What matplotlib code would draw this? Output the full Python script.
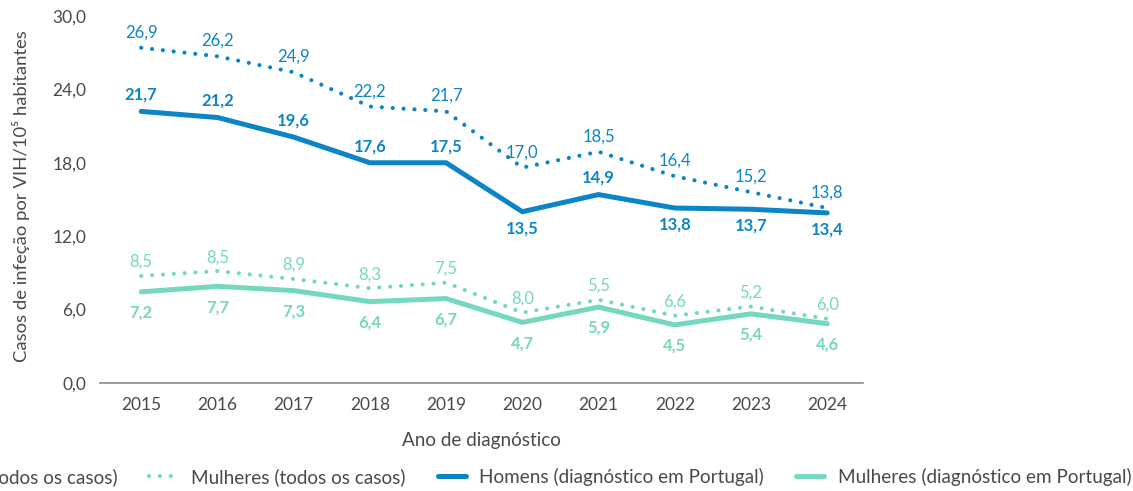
import matplotlib.pyplot as plt

plt.rcParams['font.family'] = ['Lato', 'DejaVu Sans']

years = [2015, 2016, 2017, 2018, 2019, 2020, 2021, 2022, 2023, 2024]

# line positions as drawn in the reference
men_all = [27.4, 26.7, 25.4, 22.6, 22.2, 17.6, 18.9, 16.9, 15.6, 14.3]
men_pt = [22.2, 21.7, 20.1, 18.0, 18.0, 14.0, 15.4, 14.3, 14.2, 13.9]
women_all = [8.75, 9.15, 8.5, 7.75, 8.2, 5.75, 6.8, 5.5, 6.25, 5.25]
women_pt = [7.45, 7.9, 7.55, 6.65, 6.9, 4.95, 6.2, 4.75, 5.65, 4.85]

# value labels printed on the chart
men_all_lbl = ['26,9', '26,2', '24,9', '22,2', '21,7', '17,0', '18,5', '16,4', '15,2', '13,8']
men_pt_lbl = ['21,7', '21,2', '19,6', '17,6', '17,5', '13,5', '14,9', '13,8', '13,7', '13,4']
women_all_lbl = ['8,5', '8,5', '8,9', '8,3', '7,5', '8,0', '5,5', '6,6', '5,2', '6,0']
women_pt_lbl = ['7,2', '7,7', '7,3', '6,4', '6,7', '4,7', '5,9', '4,5', '5,4', '4,6']

BLUE = '#0B85C6'
TEAL = '#74D8BF'
GREY = '#4a4a4a'

fig = plt.figure(figsize=(11.33, 4.91), dpi=100)
ax = fig.add_axes([0.0883, 0.22, 0.6734, 0.7475])

dots = (0, (0.01, 2.6))
ax.plot(years, men_all, color=BLUE, lw=3, linestyle=dots, dash_capstyle='round',
        label='Homens (todos os casos)')
ax.plot(years, women_all, color=TEAL, lw=3, linestyle=dots, dash_capstyle='round',
        label='Mulheres (todos os casos)')
ax.plot(years, men_pt, color=BLUE, lw=3.6, solid_capstyle='round', solid_joinstyle='miter',
        label='Homens (diagnóstico em Portugal)')
ax.plot(years, women_pt, color=TEAL, lw=3.6, solid_capstyle='round', solid_joinstyle='miter',
        label='Mulheres (diagnóstico em Portugal)')

# value labels
for x, y, t in zip(years, men_all, men_all_lbl):
    ax.annotate(t, (x, y), xytext=(0, 11), textcoords='offset points',
                ha='center', va='center', color=BLUE, fontsize=12)
men_pt_below = [False, False, False, False, False, True, False, True, True, True]
for x, y, t, b in zip(years, men_pt, men_pt_lbl, men_pt_below):
    ax.annotate(t, (x, y), xytext=(0, -12 if b else 12), textcoords='offset points',
                ha='center', va='center', color=BLUE, fontsize=12, fontweight='bold')
for x, y, t in zip(years, women_all, women_all_lbl):
    ax.annotate(t, (x, y), xytext=(0, 10), textcoords='offset points',
                ha='center', va='center', color=TEAL, fontsize=12)
for x, y, t in zip(years, women_pt, women_pt_lbl):
    ax.annotate(t, (x, y), xytext=(0, -15), textcoords='offset points',
                ha='center', va='center', color=TEAL, fontsize=12, fontweight='bold')

ax.set_xlim(2014.46, 2024.47)
ax.set_ylim(0, 30)
ax.set_xticks(years)
ax.set_yticks([0, 6, 12, 18, 24, 30])
ax.set_yticklabels(['0,0', '6,0', '12,0', '18,0', '24,0', '30,0'])
ax.tick_params(length=0, labelsize=12.5, colors=GREY)
ax.tick_params(axis='y', pad=10)
ax.tick_params(axis='x', pad=10)
for s in ['top', 'right', 'left']:
    ax.spines[s].set_visible(False)
ax.spines['bottom'].set_color('#8a8a8a')
ax.spines['bottom'].set_linewidth(1.2)

ax.set_ylabel('Casos de infeção por VIH/10⁵ habitantes', fontsize=13.3, color=GREY)
ax.yaxis.set_label_coords(-0.092, 0.51)
ax.set_xlabel('Ano de diagnóstico', fontsize=13.6, color=GREY, labelpad=14)

leg = fig.legend(loc='center left', bbox_to_anchor=(0, 1 - 477 / 491), ncol=4,
                 frameon=False, fontsize=13.6, handlelength=1.5, handletextpad=0.7,
                 columnspacing=1.7, borderpad=0, borderaxespad=0, labelcolor=GREY)

# shift legend so the second entry's text starts where it does in the reference
fig.canvas.draw()
x0 = leg.get_texts()[1].get_window_extent().x0
leg.set_bbox_to_anchor(((191 - x0) / 1133, 1 - 477 / 491), transform=fig.transFigure)

fig.savefig('out.png', dpi=100)
